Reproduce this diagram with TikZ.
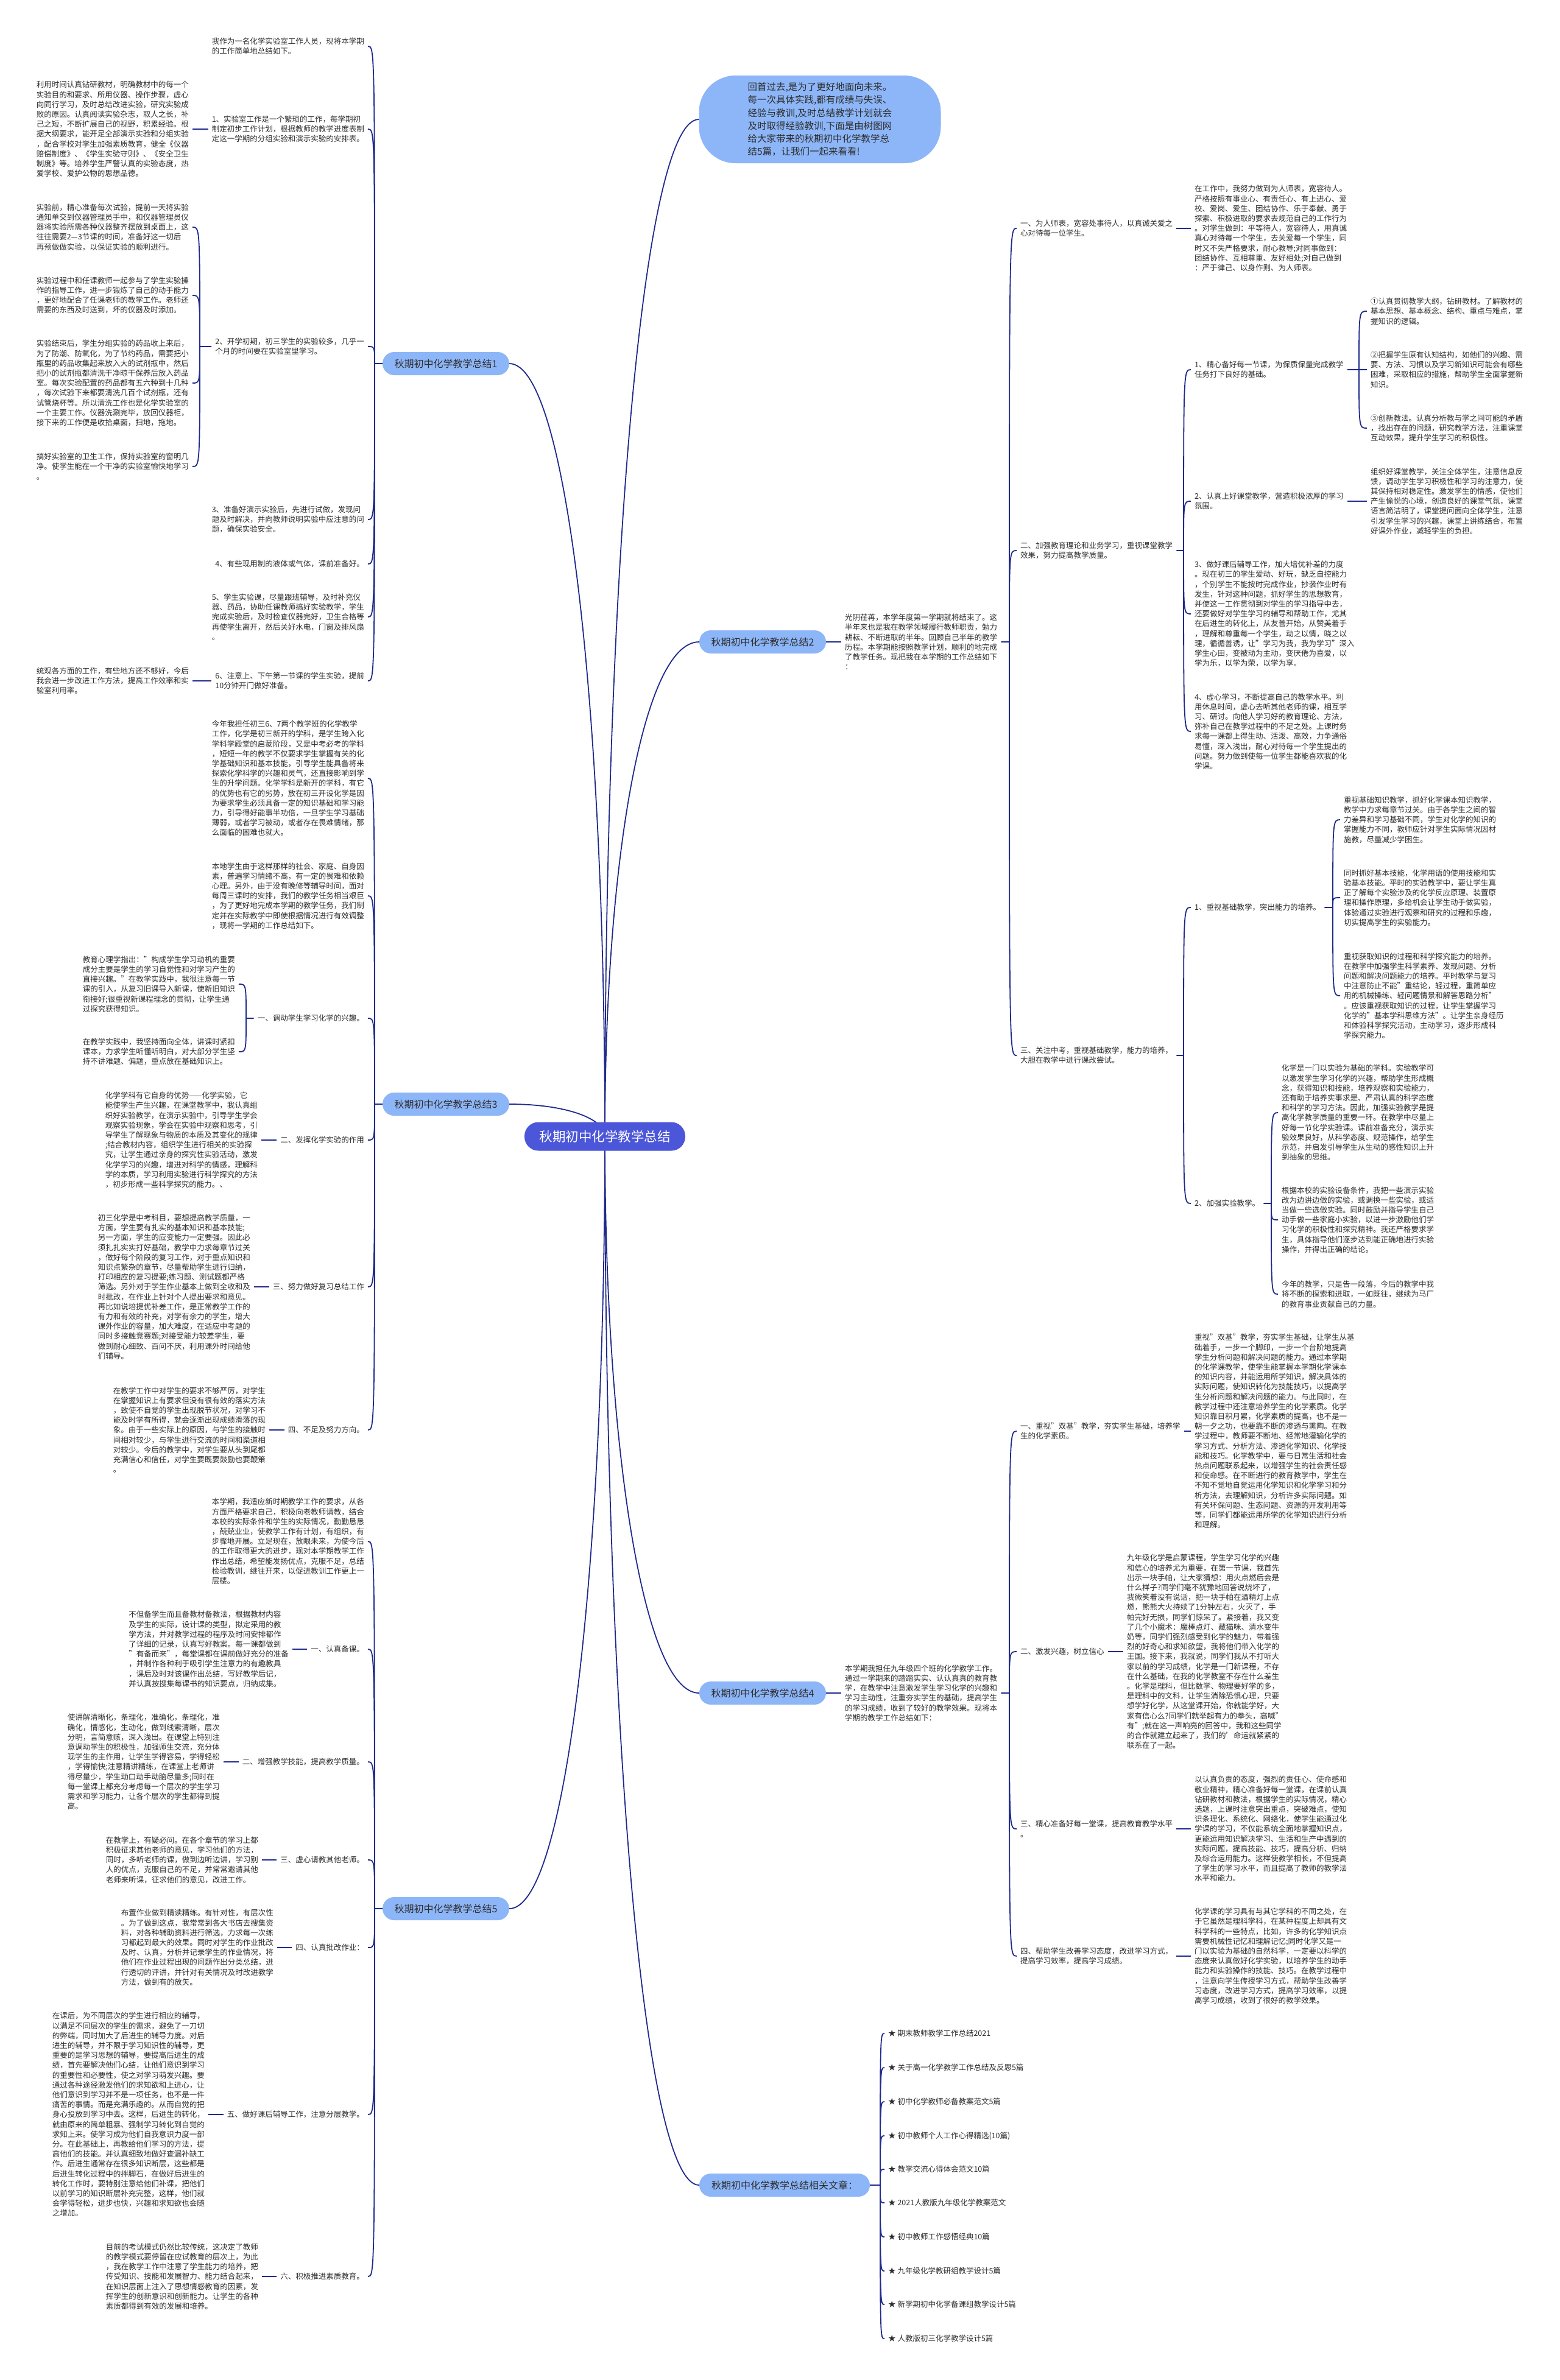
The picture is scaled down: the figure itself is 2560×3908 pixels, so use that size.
\documentclass[tikz,border=0pt]{standalone}
\usepackage{fontspec}
\setmainfont{Noto Sans CJK SC}
\usetikzlibrary{backgrounds,calc}

\definecolor{rootblue}{RGB}{75,86,217}
\definecolor{topicblue}{RGB}{141,182,248}
\definecolor{linkblue}{RGB}{32,42,140}
\definecolor{inkgray}{RGB}{45,45,45}

\begin{document}
\begin{tikzpicture}[x=1pt, y=-1pt,
  root/.style ={fill=rootblue, text=white, rounded corners=23pt,
                minimum width=264pt, minimum height=47pt, inner sep=0pt,
                font=\fontsize{21.5}{26}\selectfont},
  topic/.style={fill=topicblue, text=inkgray, rounded corners=19pt,
                minimum width=208pt, minimum height=38pt, inner sep=0pt,
                font=\fontsize{16}{20}\selectfont},
  intro/.style={fill=topicblue, text=inkgray, rounded corners=60pt,
                minimum width=397pt, minimum height=144pt, align=left,
                font=\fontsize{15.5}{21.3}\selectfont},
  txt/.style  ={text=inkgray, align=left, inner xsep=6pt, inner ysep=1pt,
                font=\fontsize{12.5}{16.2}\selectfont},
  lft/.style  ={txt, anchor=east},
  rgt/.style  ={txt, anchor=west},
  link/.style ={draw=linkblue, line width=1.8pt},
  brace/.style={to path={.. controls (\tikztostart |- \tikztotarget) .. (\tikztotarget)}}]

\begin{scope}[on background layer]
  \fill[white] (0,0) rectangle (2560,3908);
\end{scope}
\useasboundingbox (0,0) rectangle (2560,3908);

%% Centre and main topics
\node[root]  (root)  at (993,1866) {秋期初中化学教学总结};
\node[intro] (intro) at (1346,196) {回首过去,是为了更好地面向未来。\\每一次具体实践,都有成绩与失误、\\经验与教训,及时总结教学计划就会\\及时取得经验教训,下面是由树图网\\给大家带来的秋期初中化学教学总\\结5篇，让我们一起来看看!};
\node[topic] (t1) at (732,597)  {秋期初中化学教学总结1};
\node[topic] (t2) at (1252,1054) {秋期初中化学教学总结2};
\node[topic] (t3) at (732,1813) {秋期初中化学教学总结3};
\node[topic] (t4) at (1252,2780) {秋期初中化学教学总结4};
\node[topic] (t5) at (732,3134) {秋期初中化学教学总结5};
\node[topic, minimum width=280pt] (rel) at (1288,3588) {秋期初中化学教学总结相关文章：};

%% Junctions of the brackets
\coordinate (j1)   at (615,597);
\coordinate (j1c)  at (328,569);
\coordinate (j3)   at (615,1813);
\coordinate (j3c)  at (404,1672);
\coordinate (j5)   at (615,3134);
\coordinate (j2)   at (1657,1054);
\coordinate (j2b)  at (1943,904);
\coordinate (j2b1) at (2231,607);
\coordinate (j2c)  at (1943,1733);
\coordinate (j2c1) at (2188,1490);
\coordinate (j2c2) at (2087,1976);
\coordinate (j4)   at (1657,2780);
\coordinate (jr)   at (1445,3588);

%% Summary 1 (left, top)
\node[lft] (t1a) at (604,76) {我作为一名化学实验室工作人员，现将本学期\\的工作简单地总结如下。};
\node[lft] (t1b) at (604,212) {1、实验室工作是一个繁琐的工作，每学期初\\制定初步工作计划，根据教师的教学进度表制\\定这一学期的分组实验和演示实验的安排表。};
\node[lft] (t1bx) at (316,212) {利用时间认真钻研教材，明确教材中的每一个\\实验目的和要求、所用仪器、操作步骤，虚心\\向同行学习，及时总结改进实验，研究实验成\\败的原因。认真阅读实验杂志，取人之长，补\\己之短，不断扩展自己的视野，积累经验。根\\据大纲要求，能开足全部演示实验和分组实验\\，配合学校对学生加强素质教育，健全《仪器\\赔偿制度》、《学生实验守则》、《安全卫生\\制度》等。培养学生严警认真的实验态度，热\\爱学校、爱护公物的思想品德。};
\node[lft] (t1c) at (604,569) {2、开学初期，初三学生的实验较多，几乎一\\个月的时间要在实验室里学习。};
\node[lft] (t1c1) at (316,373) {实验前，精心准备每次试验，提前一天将实验\\通知单交到仪器管理员手中，和仪器管理员仪\\器将实验所需各种仪器整齐摆放到桌面上，这\\往往需要2—3节课的时间，准备好这一切后\\再预做做实验，以保证实验的顺利进行。};
\node[lft] (t1c2) at (316,485) {实验过程中和任课教师一起参与了学生实验操\\作的指导工作，进一步锻炼了自己的动手能力\\，更好地配合了任课老师的教学工作。老师还\\需要的东西及时送到，坏的仪器及时添加。};
\node[lft] (t1c3) at (316,629) {实验结束后，学生分组实验的药品收上来后，\\为了防潮、防氧化，为了节约药品，需要把小\\瓶里的药品收集起来放入大的试剂瓶中，然后\\把小的试剂瓶都清洗干净晾干保养后放入药品\\室。每次实验配置的药品都有五六种到十几种\\，每次试验下来都要清洗几百个试剂瓶，还有\\试管烧杯等。所以清洗工作也是化学实验室的\\一个主要工作。仪器洗涮完毕，放回仪器柜，\\接下来的工作便是收拾桌面，扫地，拖地。};
\node[lft] (t1c4) at (316,766) {搞好实验室的卫生工作，保持实验室的窗明几\\净。使学生能在一个干净的实验室愉快地学习\\。};
\node[lft] (t1d) at (604,853) {3、准备好演示实验后，先进行试做，发现问\\题及时解决，并向教师说明实验中应注意的问\\题，确保实验安全。};
\node[lft] (t1e) at (604,926) {4、有些现用制的液体或气体，课前准备好。};
\node[lft] (t1f) at (604,1013) {5、学生实验课，尽量跟班辅导，及时补充仪\\器、药品，协助任课教师搞好实验教学，学生\\完成实验后，及时检查仪器完好，卫生合格等\\再使学生离开，然后关好水电，门窗及排风扇\\。};
\node[lft] (t1g) at (604,1118) {6、注意上、下午第一节课的学生实验，提前\\10分钟开门做好准备。};
\node[lft] (t1gx) at (316,1118) {统观各方面的工作，有些地方还不够好，今后\\我会进一步改进工作方法，提高工作效率和实\\验室利用率。};

%% Summary 3 (left, middle)
\node[lft] (t3a) at (604,1278) {今年我担任初三6、7两个教学班的化学教学\\工作，化学是初三新开的学科，是学生跨入化\\学科学殿堂的启蒙阶段，又是中考必考的学科\\，短短一年的教学不仅要求学生掌握有关的化\\学基础知识和基本技能，引导学生能具备将来\\探索化学科学的兴趣和灵气，还直接影响到学\\生的升学问题。化学学科是新开的学科，有它\\的优势也有它的劣势，放在初三开设化学是因\\为要求学生必须具备一定的知识基础和学习能\\力，引导得好能事半功倍，一旦学生学习基础\\薄弱，或者学习被动，或者存在畏难情绪，那\\么面临的困难也就大。};
\node[lft] (t3b) at (604,1471) {本地学生由于这样那样的社会、家庭、自身因\\素，普遍学习情绪不高，有一定的畏难和依赖\\心理。另外，由于没有晚修等辅导时间，面对\\每周三课时的安排，我们的教学任务相当艰巨\\，为了更好地完成本学期的教学任务，我们制\\定并在实际教学中即使根据情况进行有效调整\\，现将一学期的工作总结如下。};
\node[lft] (t3c) at (604,1672) {一、调动学生学习化学的兴趣。};
\node[lft] (t3c1) at (392,1616) {教育心理学指出："构成学生学习动机的重要\\成分主要是学生的学习自觉性和对学习产生的\\直接兴趣。"在教学实践中，我很注意每一节\\课的引入，从复习旧课导入新课，使新旧知识\\衔接好;很重视新课程理念的贯彻，让学生通\\过探究获得知识。};
\node[lft] (t3c2) at (392,1727) {在教学实践中，我坚持面向全体，讲课时紧扣\\课本，力求学生听懂听明白，对大部分学生坚\\持不讲难题、偏题，重点放在基础知识上。};
\node[lft] (t3d) at (604,1872) {二、发挥化学实验的作用};
\node[lft] (t3dx) at (429,1872) {化学学科有它自身的优势——化学实验，它\\能使学生产生兴趣，在课堂教学中，我认真组\\织好实验教学，在演示实验中，引导学生学会\\观察实验现象，学会在实验中观察和思考，引\\导学生了解现象与物质的本质及其变化的规律\\;结合教材内容，组织学生进行相关的实验探\\究，让学生通过亲身的探究性实验活动，激发\\化学学习的兴趣，增进对科学的情感，理解科\\学的本质，学习利用实验进行科学探究的方法\\，初步形成一些科学探究的能力。、};
\node[lft] (t3e) at (604,2113) {三、努力做好复习总结工作};
\node[lft] (t3ex) at (417,2113) {初三化学是中考科目，要想提高教学质量，一\\方面，学生要有扎实的基本知识和基本技能;\\另一方面，学生的应变能力一定要强。因此必\\须扎扎实实打好基础，教学中力求每章节过关\\，做好每个阶段的复习工作，对于重点知识和\\知识点繁杂的章节，尽量帮助学生进行归纳，\\打印相应的复习提要;练习题、测试题都严格\\筛选。另外对于学生作业基本上做到全收和及\\时批改，在作业上针对个人提出要求和意见。\\再比如说培提优补差工作，是正常教学工作的\\有力和有效的补充，对学有余力的学生，增大\\课外作业的容量，加大难度，在适应中考题的\\同时多接触竞赛题;对接受能力较差学生，要\\做到耐心细致、百问不厌，利用课外时间给他\\们辅导。};
\node[lft] (t3f) at (604,2348) {四、不足及努力方向。};
\node[lft] (t3fx) at (442,2348) {在教学工作中对学生的要求不够严厉，对学生\\在掌握知识上有要求但没有很有效的落实方法\\，致使不自觉的学生出现脱节状况，对学习不\\能及时学有所得，就会逐渐出现成绩滑落的现\\象。由于一些实际上的原因，与学生的接触时\\间相对较少，与学生进行交流的时间和渠道相\\对较少。今后的教学中，对学生要从头到尾都\\充满信心和信任，对学生要既要鼓励也要鞭策\\。};

%% Summary 5 (left, bottom)
\node[lft] (t5a) at (604,2531) {本学期，我适应新时期教学工作的要求，从各\\方面严格要求自己，积极向老教师请教，结合\\本校的实际条件和学生的实际情况，勤勤恳恳\\，兢兢业业，使教学工作有计划，有组织，有\\步骤地开展。立足现在，放眼未来，为使今后\\的工作取得更大的进步，现对本学期教学工作\\作出总结，希望能发扬优点，克服不足，总结\\检验教训，继往开来，以促进教训工作更上一\\层楼。};
\node[lft] (t5b) at (604,2708) {一、认真备课。};
\node[lft] (t5bx) at (480,2708) {不但备学生而且备教材备教法，根据教材内容\\及学生的实际，设计课的类型，拟定采用的教\\学方法，并对教学过程的程序及时间安排都作\\了详细的记录，认真写好教案。每一课都做到\\"有备而来"，每堂课都在课前做好充分的准备\\，并制作各种利于吸引学生注意力的有趣教具\\，课后及时对该课作出总结，写好教学后记，\\并认真按搜集每课书的知识要点，归纳成集。};
\node[lft] (t5c) at (604,2893) {二、增强教学技能，提高教学质量。};
\node[lft] (t5cx) at (367,2893) {使讲解清晰化，条理化，准确化，条理化，准\\确化，情感化，生动化，做到线索清晰，层次\\分明，言简意赅，深入浅出。在课堂上特别注\\意调动学生的积极性，加强师生交流，充分体\\现学生的主作用，让学生学得容易，学得轻松\\，学得愉快;注意精讲精练，在课堂上老师讲\\得尽量少，学生动口动手动脑尽量多;同时在\\每一堂课上都充分考虑每一个层次的学生学习\\需求和学习能力，让各个层次的学生都得到提\\高。};
\node[lft] (t5d) at (604,3054) {三、虚心请教其他老师。};
\node[lft] (t5dx) at (430,3054) {在教学上，有疑必问。在各个章节的学习上都\\积极征求其他老师的意见，学习他们的方法，\\同时，多听老师的课，做到边听边讲，学习别\\人的优点，克服自己的不足，并常常邀请其他\\老师来听课，征求他们的意见，改进工作。};
\node[lft] (t5e) at (604,3198) {四、认真批改作业：};
\node[lft] (t5ex) at (455,3198) {布置作业做到精读精练。有针对性，有层次性\\。为了做到这点，我常常到各大书店去搜集资\\料，对各种辅助资料进行筛选，力求每一次练\\习都起到最大的效果。同时对学生的作业批改\\及时、认真，分析并记录学生的作业情况，将\\他们在作业过程出现的问题作出分类总结，进\\行透切的评讲，并针对有关情况及时改进教学\\方法，做到有的放矢。};
\node[lft] (t5f) at (604,3472) {五、做好课后辅导工作，注意分层教学。};
\node[lft] (t5fx) at (342,3472) {在课后，为不同层次的学生进行相应的辅导，\\以满足不同层次的学生的需求，避免了一刀切\\的弊端，同时加大了后进生的辅导力度。对后\\进生的辅导，并不限于学习知识性的辅导，更\\重要的是学习思想的辅导，要提高后进生的成\\绩，首先要解决他们心结，让他们意识到学习\\的重要性和必要性，使之对学习萌发兴趣。要\\通过各种途径激发他们的求知欲和上进心，让\\他们意识到学习并不是一项任务，也不是一件\\痛苦的事情。而是充满乐趣的。从而自觉的把\\身心投放到学习中去。这样，后进生的转化，\\就由原来的简单粗暴、强制学习转化到自觉的\\求知上来。使学习成为他们自我意识力度一部\\分。在此基础上，再教给他们学习的方法，提\\高他们的技能。并认真细致地做好查漏补缺工\\作。后进生通常存在很多知识断层，这些都是\\后进生转化过程中的拌脚石，在做好后进生的\\转化工作时，要特别注意给他们补课，把他们\\以前学习的知识断层补充完整，这样，他们就\\会学得轻松，进步也快，兴趣和求知欲也会随\\之增加。};
\node[lft] (t5g) at (604,3738) {六、积极推进素质教育。};
\node[lft] (t5gx) at (430,3738) {目前的考试模式仍然比较传统，这决定了教师\\的教学模式要停留在应试教育的层次上，为此\\，我在教学工作中注意了学生能力的培养，把\\传受知识、技能和发展智力、能力结合起来，\\在知识层面上注入了思想情感教育的因素，发\\挥学生的创新意识和创新能力。让学生的各种\\素质都得到有效的发展和培养。};

%% Summary 2 (right, top)
\node[rgt] (t2s) at (1381,1054) {光阴荏苒，本学年度第一学期就将结束了。这\\半年来也是我在教学领域履行教师职责，勉力\\耕耘、不断进取的半年。回顾自己半年的教学\\历程。本学期能按照教学计划，顺利的地完成\\了教学任务。现把我在本学期的工作总结如下\\：};
\node[rgt] (t2a) at (1669,375) {一、为人师表，宽容处事待人，以真诚关爱之\\心对待每一位学生。};
\node[rgt] (t2ax) at (1955,375) {在工作中，我努力做到为人师表，宽容待人。\\严格按照有事业心、有责任心、有上进心、爱\\校、爱岗、爱生、团结协作、乐于奉献、勇于\\探索、积极进取的要求去规范自己的工作行为\\。对学生做到：平等待人，宽容待人，用真诚\\真心对待每一个学生，去关爱每一个学生，同\\时又不失严格要求，耐心教导;对同事做到：\\团结协作、互相尊重、友好相处;对自己做到\\：严于律己、以身作则、为人师表。};
\node[rgt] (t2b) at (1669,904) {二、加强教育理论和业务学习，重视课堂教学\\效果，努力提高教学质量。};
\node[rgt] (t2b1) at (1955,607) {1、精心备好每一节课，为保质保量完成教学\\任务打下良好的基础。};
\node[rgt] (t2b1a) at (2244,511) {①认真贯彻教学大纲，钻研教材。了解教材的\\基本思想、基本概念、结构、重点与难点，掌\\握知识的逻辑。};
\node[rgt] (t2b1b) at (2244,607) {②把握学生原有认知结构，如他们的兴趣、需\\要、方法、习惯以及学习新知识可能会有哪些\\困难，采取相应的措施，帮助学生全面掌握新\\知识。};
\node[rgt] (t2b1c) at (2244,703) {③创新教法。认真分析教与学之间可能的矛盾\\，找出存在的问题，研究教学方法，注重课堂\\互动效果，提升学生学习的积极性。};
\node[rgt] (t2b2) at (1955,823) {2、认真上好课堂教学，营造积极浓厚的学习\\氛围。};
\node[rgt] (t2b2x) at (2244,823) {组织好课堂教学，关注全体学生，注意信息反\\馈，调动学生学习积极性和学习的注意力，使\\其保持相对稳定性。激发学生的情感，使他们\\产生愉悦的心境，创造良好的课堂气氛，课堂\\语言简洁明了，课堂提问面向全体学生，注意\\引发学生学习的兴趣，课堂上讲练结合，布置\\好课外作业，减轻学生的负担。};
\node[rgt] (t2b3) at (1955,1008) {3、做好课后辅导工作，加大培优补差的力度\\。现在初三的学生爱动、好玩，缺乏自控能力\\，个别学生不能按时完成作业，抄袭作业时有\\发生，针对这种问题，抓好学生的思想教育，\\并使这一工作贯彻到对学生的学习指导中去，\\还要做好对学生学习的辅导和帮助工作，尤其\\在后进生的转化上，从友善开始，从赞美着手\\，理解和尊重每一个学生，动之以情，晓之以\\理，循循善诱，让"学习为我，我为学习"深入\\学生心田，变被动为主动，变厌倦为喜爱，以\\学为乐，以学为荣，以学为享。};
\node[rgt] (t2b4) at (1955,1201) {4、虚心学习，不断提高自己的教学水平。利\\用休息时间，虚心去听其他老师的课，相互学\\习、研讨。向他人学习好的教育理论、方法，\\弥补自己在教学过程中的不足之处。上课时务\\求每一课都上得生动、活泼、高效，力争通俗\\易懂，深入浅出，耐心对待每一个学生提出的\\问题。努力做到使每一位学生都能喜欢我的化\\学课。};
\node[rgt] (t2c) at (1669,1733) {三、关注中考，重视基础教学，能力的培养，\\大胆在教学中进行课改尝试。};
\node[rgt] (t2c1) at (1955,1490) {1、重视基础教学，突出能力的培养。};
\node[rgt] (t2c1a) at (2200,1346) {重视基础知识教学，抓好化学课本知识教学，\\教学中力求每章节过关。由于各学生之间的智\\力差异和学习基础不同，学生对化学的知识的\\掌握能力不同，教师应针对学生实际情况因材\\施教，尽量减少学困生。};
\node[rgt] (t2c1b) at (2200,1474) {同时抓好基本技能，化学用语的使用技能和实\\验基本技能。平时的实验教学中，要让学生真\\正了解每个实验涉及的化学反应原理、装置原\\理和操作原理，多给机会让学生动手做实验，\\体验通过实验进行观察和研究的过程和乐趣，\\切实提高学生的实验能力。};
\node[rgt] (t2c1c) at (2200,1635) {重视获取知识的过程和科学探究能力的培养。\\在教学中加强学生科学素养、发现问题、分析\\问题和解决问题能力的培养。平时教学与复习\\中注意防止不能"重结论，轻过程，重简单应\\用的机械操练、轻问题情景和解答思路分析"\\。应该重视获取知识的过程，让学生掌握学习\\化学的"基本学科思维方法"。让学生亲身经历\\和体验科学探究活动，主动学习，逐步形成科\\学探究能力。};
\node[rgt] (t2c2) at (1955,1976) {2、加强实验教学。};
\node[rgt] (t2c2a) at (2098,1827) {化学是一门以实验为基础的学科。实验教学可\\以激发学生学习化学的兴趣，帮助学生形成概\\念，获得知识和技能，培养观察和实验能力，\\还有助于培养实事求是、严肃认真的科学态度\\和科学的学习方法。因此，加强实验教学是提\\高化学教学质量的重要一环。在教学中尽量上\\好每一节化学实验课。课前准备充分，演示实\\验效果良好，从科学态度、规范操作，给学生\\示范，并启发引导学生从生动的感性知识上升\\到抽象的思维。};
\node[rgt] (t2c2b) at (2098,2003) {根据本校的实验设备条件，我把一些演示实验\\改为边讲边做的实验，或调换一些实验，或适\\当做一些选做实验。同时鼓励并指导学生自己\\动手做一些家庭小实验，以进一步激励他们学\\习化学的积极性和探究精神。我还严格要求学\\生，具体指导他们逐步达到能正确地进行实验\\操作，并得出正确的结论。};
\node[rgt] (t2c2c) at (2098,2125) {今年的教学，只是告一段落，今后的教学中我\\将不断的探索和进取，一如既往，继续为马厂\\的教育事业贡献自己的力量。};

%% Summary 4 (right, lower)
\node[rgt] (t4s) at (1381,2780) {本学期我担任九年级四个班的化学教学工作。\\通过一学期来的踏踏实实、认认真真的教育教\\学，在教学中注意激发学生学习化学的兴趣和\\学习主动性，注重夯实学生的基础，提高学生\\的学习成绩，收到了较好的教学效果。现将本\\学期的教学工作总结如下：};
\node[rgt] (t4a) at (1669,2350) {一、重视"双基"教学，夯实学生基础，培养学\\生的化学素质。};
\node[rgt] (t4ax) at (1955,2350) {重视"双基"教学，夯实学生基础，让学生从基\\础着手，一步一个脚印，一步一个台阶地提高\\学生分析问题和解决问题的能力。通过本学期\\的化学课教学，使学生能掌握本学期化学课本\\的知识内容，并能运用所学知识，解决具体的\\实际问题，使知识转化为技能技巧，以提高学\\生分析问题和解决问题的能力。与此同时，在\\教学过程中还注意培养学生的化学素质。化学\\知识靠日积月累，化学素质的提高，也不是一\\朝一夕之功，也要靠不断的渗透与熏陶。在教\\学过程中，教师要不断地、经常地灌输化学的\\学习方式、分析方法、渗透化学知识、化学技\\能和技巧。化学教学中，要与日常生活和社会\\热点问题联系起来，以增强学生的社会责任感\\和使命感。在不断进行的教育教学中，学生在\\不知不觉地自觉运用化学知识和化学学习和分\\析方法，去理解知识，分析许多实际问题。如\\有关环保问题、生态问题、资源的开发利用等\\等，同学们都能运用所学的化学知识进行分析\\和理解。};
\node[rgt] (t4b) at (1669,2712) {二、激发兴趣，树立信心};
\node[rgt] (t4bx) at (1844,2712) {九年级化学是启蒙课程，学生学习化学的兴趣\\和信心的培养尤为重要，在第一节课，我首先\\出示一块手帕，让大家猜想：用火点燃后会是\\什么样子?同学们毫不犹豫地回答说烧坏了，\\我微笑着没有说话，把一块手帕在酒精灯上点\\燃，熊熊大火持续了1分钟左右，火灭了，手\\帕完好无损，同学们惊呆了。紧接着，我又变\\了几个小魔术：魔棒点灯、藏猫咪、清水变牛\\奶等，同学们强烈感受到化学的魅力，带着强\\烈的好奇心和求知欲望，我将他们带入化学的\\王国。接下来，我就说，同学们我从不打听大\\家以前的学习成绩，化学是一门新课程，不存\\在什么基础，在我的化学教室不存在什么差生\\。化学是理科，但比数学、物理要好学的多，\\是理科中的文科，让学生消除恐惧心理，只要\\想学好化学，从这堂课开始，你就能学好，大\\家有信心么?同学们就举起有力的拳头，高喊"\\有";就在这一声响亮的回答中，我和这些同学\\的合作就建立起来了，我们的'命运就紧紧的\\联系在了一起。};
\node[rgt] (t4c) at (1669,3003) {三、精心准备好每一堂课，提高教育教学水平\\。};
\node[rgt] (t4cx) at (1955,3003) {以认真负责的态度，强烈的责任心、使命感和\\敬业精神，精心准备好每一堂课，在课前认真\\钻研教材和教法，根据学生的实际情况，精心\\选题，上课时注意突出重点，突破难点，使知\\识条理化、系统化、网络化，使学生能通过化\\学课的学习，不仅能系统全面地掌握知识点，\\更能运用知识解决学习、生活和生产中遇到的\\实际问题，提高技能、技巧，提高分析、归纳\\及综合运用能力。这样使教学相长，不但提高\\了学生的学习水平，而且提高了教师的教学法\\水平和能力。};
\node[rgt] (t4d) at (1669,3212) {四、帮助学生改善学习态度，改进学习方式，\\提高学习效率，提高学习成绩。};
\node[rgt] (t4dx) at (1955,3212) {化学课的学习具有与其它学科的不同之处，在\\于它虽然是理科学科，在某种程度上却具有文\\科学科的一些特点，比如，许多的化学知识点\\需要机械性记忆和理解记忆;同时化学又是一\\门以实验为基础的自然科学，一定要以科学的\\态度来认真做好化学实验，以培养学生的动手\\能力和实验操作的技能、技巧。在教学过程中\\，注意向学生传授学习方式，帮助学生改善学\\习态度，改进学习方式，提高学习效率，以提\\高学习成绩，收到了很好的教学效果。};

%% Related articles
\node[rgt] (r1)  at (1452,3339) {★ 期末教师教学工作总结2021};
\node[rgt] (r2)  at (1452,3395) {★ 关于高一化学教学工作总结及反思5篇};
\node[rgt] (r3)  at (1452,3451) {★ 初中化学教师必备教案范文5篇};
\node[rgt] (r4)  at (1452,3507) {★ 初中教师个人工作心得精选(10篇)};
\node[rgt] (r5)  at (1452,3562) {★ 教学交流心得体会范文10篇};
\node[rgt] (r6)  at (1452,3617) {★ 2021人教版九年级化学教案范文};
\node[rgt] (r7)  at (1452,3673) {★ 初中教师工作感悟经典10篇};
\node[rgt] (r8)  at (1452,3729) {★ 九年级化学教研组教学设计5篇};
\node[rgt] (r9)  at (1452,3784) {★ 新学期初中化学备课组教学设计5篇};
\node[rgt] (r10) at (1452,3840) {★ 人教版初三化学教学设计5篇};

\begin{scope}[on background layer]
%% centre -> main topics
\draw[link] (root.center) .. controls +(0,-920) and +(-93,0) .. (intro.west);
\draw[link] (root.center) .. controls +(0,-698) and +(94,0) .. (t1.east);
\draw[link] (root.center) .. controls +(0,-447) and +(-93,0) .. (t2.west);
\draw[link] (root.center) .. controls +(0,-29) and +(94,0) .. (t3.east);
\draw[link] (root.center) .. controls +(0,503) and +(-93,0) .. (t4.west);
\draw[link] (root.center) .. controls +(0,697) and +(94,0) .. (t5.east);
\draw[link] (root.center) .. controls +(0,947) and +(-93,0) .. (rel.west);

%% summary 1 brackets
\draw[link] (t1.west) -- (j1)
  (j1) to[brace] (t1a.east) (j1) to[brace] (t1b.east) (j1) to[brace] (t1c.east)
  (j1) to[brace] (t1d.east) (j1) to[brace] (t1e.east) (j1) to[brace] (t1f.east)
  (j1) to[brace] (t1g.east);
\draw[link] (t1b.west) -- (t1bx.east);
\draw[link] (t1c.west) -- (j1c)
  (j1c) to[brace] (t1c1.east) (j1c) to[brace] (t1c2.east)
  (j1c) to[brace] (t1c3.east) (j1c) to[brace] (t1c4.east);
\draw[link] (t1g.west) -- (t1gx.east);

%% summary 3 brackets
\draw[link] (t3.west) -- (j3)
  (j3) to[brace] (t3a.east) (j3) to[brace] (t3b.east) (j3) to[brace] (t3c.east)
  (j3) to[brace] (t3d.east) (j3) to[brace] (t3e.east) (j3) to[brace] (t3f.east);
\draw[link] (t3c.west) -- (j3c)
  (j3c) to[brace] (t3c1.east) (j3c) to[brace] (t3c2.east);
\draw[link] (t3d.west) -- (t3dx.east);
\draw[link] (t3e.west) -- (t3ex.east);
\draw[link] (t3f.west) -- (t3fx.east);

%% summary 5 brackets
\draw[link] (t5.west) -- (j5)
  (j5) to[brace] (t5a.east) (j5) to[brace] (t5b.east) (j5) to[brace] (t5c.east)
  (j5) to[brace] (t5d.east) (j5) to[brace] (t5e.east) (j5) to[brace] (t5f.east)
  (j5) to[brace] (t5g.east);
\draw[link] (t5b.west) -- (t5bx.east);
\draw[link] (t5c.west) -- (t5cx.east);
\draw[link] (t5d.west) -- (t5dx.east);
\draw[link] (t5e.west) -- (t5ex.east);
\draw[link] (t5f.west) -- (t5fx.east);
\draw[link] (t5g.west) -- (t5gx.east);

%% summary 2 brackets
\draw[link] (t2.east) -- (t2s.west);
\draw[link] (t2s.east) -- (j2)
  (j2) to[brace] (t2a.west) (j2) to[brace] (t2b.west) (j2) to[brace] (t2c.west);
\draw[link] (t2a.east) -- (t2ax.west);
\draw[link] (t2b.east) -- (j2b)
  (j2b) to[brace] (t2b1.west) (j2b) to[brace] (t2b2.west)
  (j2b) to[brace] (t2b3.west) (j2b) to[brace] (t2b4.west);
\draw[link] (t2b1.east) -- (j2b1)
  (j2b1) to[brace] (t2b1a.west) (j2b1) to[brace] (t2b1b.west) (j2b1) to[brace] (t2b1c.west);
\draw[link] (t2b2.east) -- (t2b2x.west);
\draw[link] (t2c.east) -- (j2c)
  (j2c) to[brace] (t2c1.west) (j2c) to[brace] (t2c2.west);
\draw[link] (t2c1.east) -- (j2c1)
  (j2c1) to[brace] (t2c1a.west) (j2c1) to[brace] (t2c1b.west) (j2c1) to[brace] (t2c1c.west);
\draw[link] (t2c2.east) -- (j2c2)
  (j2c2) to[brace] (t2c2a.west) (j2c2) to[brace] (t2c2b.west) (j2c2) to[brace] (t2c2c.west);

%% summary 4 brackets
\draw[link] (t4.east) -- (t4s.west);
\draw[link] (t4s.east) -- (j4)
  (j4) to[brace] (t4a.west) (j4) to[brace] (t4b.west)
  (j4) to[brace] (t4c.west) (j4) to[brace] (t4d.west);
\draw[link] (t4a.east) -- (t4ax.west);
\draw[link] (t4b.east) -- (t4bx.west);
\draw[link] (t4c.east) -- (t4cx.west);
\draw[link] (t4d.east) -- (t4dx.west);

%% related articles
\draw[link] (rel.east) -- (jr)
  (jr) to[brace] (r1.west) (jr) to[brace] (r2.west) (jr) to[brace] (r3.west)
  (jr) to[brace] (r4.west) (jr) to[brace] (r5.west) (jr) to[brace] (r6.west)
  (jr) to[brace] (r7.west) (jr) to[brace] (r8.west) (jr) to[brace] (r9.west)
  (jr) to[brace] (r10.west);
\end{scope}
\end{tikzpicture}
\end{document}
